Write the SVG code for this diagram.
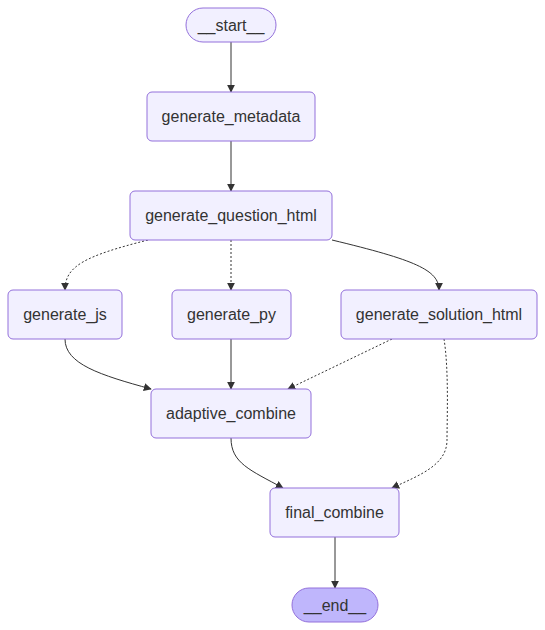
<svg xmlns="http://www.w3.org/2000/svg" width="545" height="630" viewBox="0 0 545 630">
<style>
.node rect{fill:#f2f0ff;stroke:#9370db;stroke-width:1}
.node.end rect{fill:#bfb6fc}
.node text{font-family:"Liberation Sans",Arial,sans-serif;font-size:16px;fill:#333;text-anchor:middle;dominant-baseline:central}
.edge{fill:none;stroke:#333;stroke-width:1;marker-end:url(#arrow)}
.dot{stroke-dasharray:2 2}
</style>
<defs>
<marker id="arrow" viewBox="0 0 10 10" refX="9" refY="5" markerWidth="8" markerHeight="8" markerUnits="userSpaceOnUse" orient="auto">
<path d="M0,0 L10,5 L0,10 z" fill="#333"/>
</marker>
</defs>
<rect width="545" height="630" fill="#fff"/>
<g id="edges">
<path class="edge" d="M231,42 L231,92"/>
<path class="edge" d="M231,141 L231,191"/>
<path class="edge dot" d="M148,240 C85,256 65,266 65,290"/>
<path class="edge dot" d="M231,240 L231,290"/>
<path class="edge" d="M332,240 C415,260 439,270 439,290"/>
<path class="edge" d="M65,339 C65,364 100,375 151,389"/>
<path class="edge" d="M231,339 L231,389"/>
<path class="edge dot" d="M392,339 L288,389"/>
<path class="edge dot" d="M444,339 C449,370 447,420 447,440 C447,465 420,475 392,488"/>
<path class="edge" d="M231,438 C231,463 250,470 283,488"/>
<path class="edge" d="M335,537 L335,588"/>
</g>
<g id="start" class="node"><rect x="186" y="8" width="90" height="34" rx="17"/><text x="231" y="25">__start__</text></g>
<g id="generate_metadata" class="node"><rect x="147" y="92" width="168" height="49" rx="5"/><text x="231" y="116.5">generate_metadata</text></g>
<g id="generate_question_html" class="node"><rect x="130" y="191" width="202" height="49" rx="5"/><text x="231" y="215.5">generate_question_html</text></g>
<g id="generate_js" class="node"><rect x="8" y="290" width="114" height="49" rx="5"/><text x="65" y="314.5">generate_js</text></g>
<g id="generate_py" class="node"><rect x="172" y="290" width="119" height="49" rx="5"/><text x="231.5" y="314.5">generate_py</text></g>
<g id="generate_solution_html" class="node"><rect x="341" y="290" width="196" height="49" rx="5"/><text x="439" y="314.5">generate_solution_html</text></g>
<g id="adaptive_combine" class="node"><rect x="151" y="389" width="160" height="49" rx="5"/><text x="231" y="413.5">adaptive_combine</text></g>
<g id="final_combine" class="node"><rect x="270" y="488" width="129" height="49" rx="5"/><text x="334.5" y="512.5">final_combine</text></g>
<g id="end" class="node end"><rect x="292" y="588" width="86" height="34" rx="17"/><text x="335" y="605">__end__</text></g>
</svg>
